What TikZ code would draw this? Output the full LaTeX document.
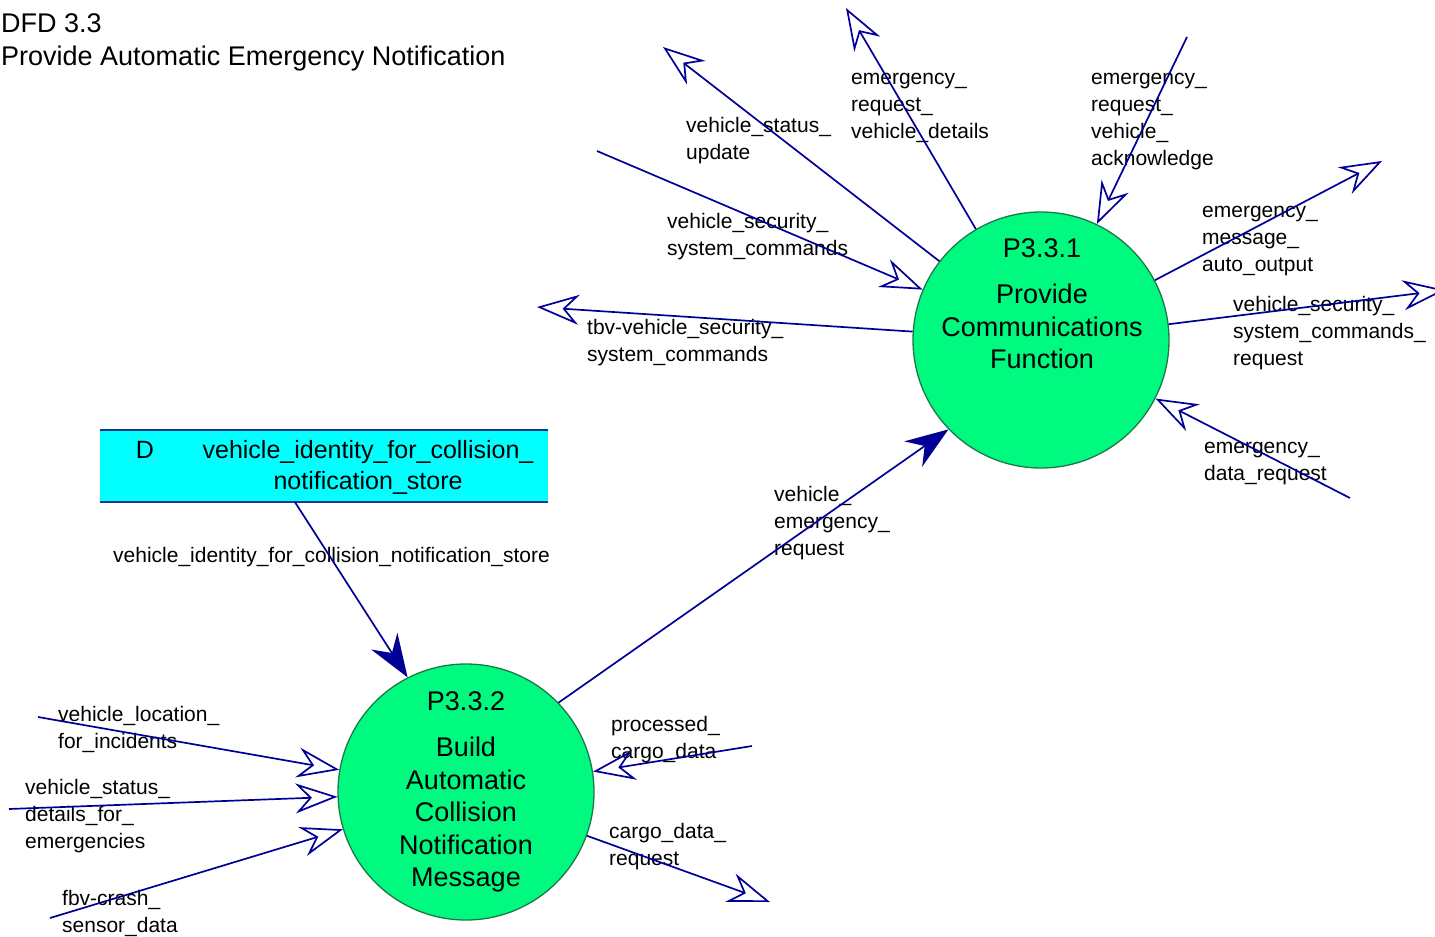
\documentclass[tikz,border=0pt]{standalone}
\usepackage{fontspec}
\setmainfont{Liberation Sans}
\usetikzlibrary{arrows.meta}
\definecolor{flow}{RGB}{0,0,150}
\definecolor{bubble}{RGB}{0,250,128}
\definecolor{bubbleedge}{RGB}{30,120,70}
\definecolor{storefill}{RGB}{0,255,255}
\definecolor{storeedge}{RGB}{30,50,140}
\newcommand\lblfont{\fontsize{21}{27}\selectfont}
\newcommand\bubfont{\fontsize{27}{32.5}\selectfont}
\newcommand\ttlfont{\fontsize{27}{33}\selectfont}
\newcommand\stfont{\fontsize{25}{31}\selectfont}
\begin{document}
\begin{tikzpicture}[x=1pt,y=-1pt,
  bubblestyle/.style={circle, draw=bubbleedge, fill=bubble, line width=1.3pt, minimum size=256pt, inner sep=0pt},
  bubtext/.style={font=\bubfont, align=center, anchor=north, inner sep=0pt},
  lbl/.style={font=\lblfont, align=left, anchor=north west, inner sep=0pt},
  flowline/.style={draw=flow, line width=1.7pt},
  openarr/.style={flowline, -{Stealth[open, length=42pt, width=30pt, inset=14pt]}},
  solidarr/.style={flowline, -{Stealth[length=43pt, width=31pt, inset=14pt]}},
]
\useasboundingbox (0,0) rectangle (1435,937);
\clip (0,0) rectangle (1435,937);

% title
\node[font=\ttlfont, align=left, anchor=north west, inner sep=0pt] (title) at (1,9.6)
  {\strut DFD 3.3\\Provide Automatic Emergency Notification};

% processes
\node[bubblestyle] (p1) at (1041,340) {};
\node[bubtext] (p1t) at (1042,235) {\strut P3.3.1\\[13.5pt]Provide\\Communications\\Function};
\node[bubblestyle] (p2) at (466,792) {};
\node[bubtext] (p2t) at (466,688) {\strut P3.3.2\\[13.5pt]Build\\Automatic\\Collision\\Notification\\Message};

% data store
\node[fill=storefill, minimum width=448pt, minimum height=72pt, inner sep=0pt] (store) at (324,466) {};
\draw[storeedge, line width=1.5pt] (store.north west) -- (store.north east)
  (store.south west) -- (store.south east);
\node[font=\stfont, anchor=base, inner sep=0pt] (storeD) at (145,458) {D};
\node[font=\stfont, align=center, anchor=north, inner sep=0pt] (storet) at (368,436.3)
  {\strut vehicle\_identity\_for\_collision\_\\notification\_store};

% free ends
\coordinate (e1) at (663,47);
\coordinate (e2) at (846,8);
\coordinate (e3) at (597,151);
\coordinate (e4) at (537,307);
\coordinate (e5) at (1187,37);
\coordinate (e6) at (1382,161);
\coordinate (e7) at (1445,290);
\coordinate (e8) at (1350,498);
\coordinate (f1) at (38,717);
\coordinate (f2) at (9,809);
\coordinate (f3) at (50,918);
\coordinate (f4) at (752,746);
\coordinate (f5) at (770,902);

% labels
\node[lbl] (l1) at (686,113.6) {\strut vehicle\_status\_\\update};
\node[lbl] (l2) at (851,65.6) {\strut emergency\_\\request\_\\vehicle\_details};
\node[lbl] (l3) at (667,209.6) {\strut vehicle\_security\_\\system\_commands};
\node[lbl] (l4) at (587,315.6) {\strut tbv-vehicle\_security\_\\system\_commands};
\node[lbl] (l5) at (1091,65.6) {\strut emergency\_\\request\_\\vehicle\_\\acknowledge};
\node[lbl] (l6) at (1202,198.6) {\strut emergency\_\\message\_\\auto\_output};
\node[lbl] (l7) at (1233,292.6) {\strut vehicle\_security\_\\system\_commands\_\\request};
\node[lbl] (l8) at (1204,434.6) {\strut emergency\_\\data\_request};
\node[lbl] (l9) at (774,482.6) {\strut vehicle\_\\emergency\_\\request};
\node[lbl] (l10) at (113,543.6) {\strut vehicle\_identity\_for\_collision\_notification\_store};
\node[lbl] (l11) at (58,702.6) {\strut vehicle\_location\_\\for\_incidents};
\node[lbl] (l12) at (25,775.6) {\strut vehicle\_status\_\\details\_for\_\\emergencies};
\node[lbl] (l13) at (62,886.6) {\strut fbv-crash\_\\sensor\_data};
\node[lbl] (l14) at (611,712.6) {\strut processed\_\\cargo\_data};
\node[lbl] (l15) at (609,819.6) {\strut cargo\_data\_\\request};

% flows around P3.3.1
\draw[openarr] (p1) -- (e1);
\draw[openarr] (p1) -- (e2);
\draw[openarr] (e3) -- (p1);
\draw[openarr] (p1) -- (e4);
\draw[openarr] (e5) -- (p1);
\draw[openarr] (p1) -- (e6);
\draw[openarr] (p1) -- (e7);
\draw[openarr] (e8) -- (p1);
% between processes and store
\draw[solidarr] (p2.44) -- (p1.224);
\draw[solidarr] ([xshift=-29pt]store.south) -- (p2.117);
% flows around P3.3.2
\draw[openarr] (f1) -- (p2);
\draw[openarr] (f2) -- (p2);
\draw[openarr] (f3) -- (p2);
\draw[openarr] (f4) -- (p2);
\draw[openarr] (p2) -- (f5);
\end{tikzpicture}
\end{document}
